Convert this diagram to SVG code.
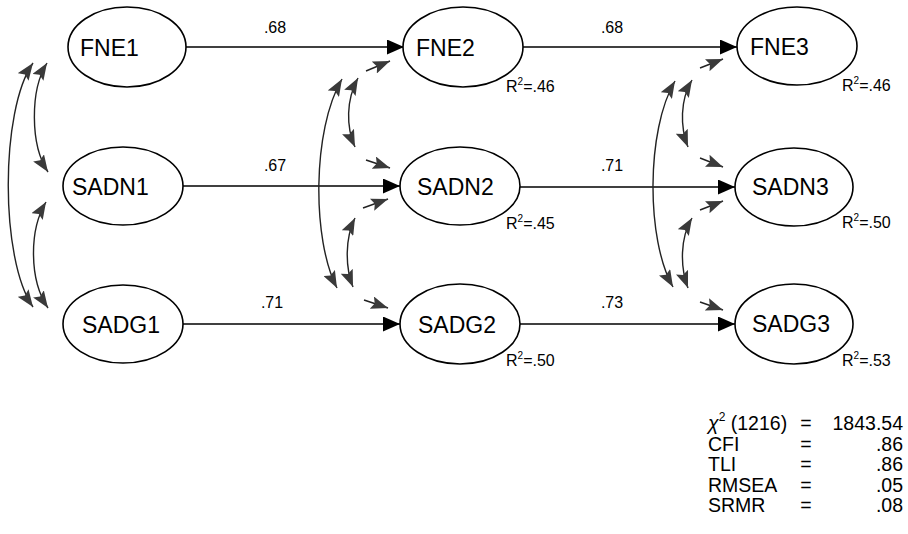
<svg xmlns="http://www.w3.org/2000/svg" width="908" height="534" viewBox="0 0 908 534">
<style>
.node ellipse{fill:#fff;stroke:#000;stroke-width:1.6}
.nt{font-family:"Liberation Sans",Arial,sans-serif;font-size:23px;fill:#000}
.lbl{font-family:"Liberation Sans",Arial,sans-serif;font-size:16px;fill:#000}
.r2{font-family:"Liberation Sans",Arial,sans-serif;font-size:16px;fill:#000}
.st{font-family:"Liberation Sans",Arial,sans-serif;font-size:19.5px;fill:#000}
.path{fill:none;stroke:#000;stroke-width:1.5}
.cov{fill:none;stroke:#222;stroke-width:1.4}
</style>
<defs>
<marker id="ah" viewBox="0 0 17 15" refX="17" refY="7.5" markerWidth="17" markerHeight="15" markerUnits="userSpaceOnUse" orient="auto">
<path d="M0,0 L17,7.5 L0,15 z" fill="#000"/>
</marker>
<marker id="gh" viewBox="0 0 17 13" refX="17" refY="6.5" markerWidth="17" markerHeight="13" markerUnits="userSpaceOnUse" orient="auto-start-reverse">
<path d="M0,0 L17,6.5 L0,13 L3,6.5 z" fill="#3a3a3a"/>
</marker>
</defs>

<g id="connectors">
<path class="path" d="M186 47 L404 47" marker-end="url(#ah)"/>
<path class="path" d="M183 186 L400 186" marker-end="url(#ah)"/>
<path class="path" d="M183 324 L400 324" marker-end="url(#ah)"/>
<path class="path" d="M523 47 L737 47" marker-end="url(#ah)"/>
<path class="path" d="M520 187 L735 187" marker-end="url(#ah)"/>
<path class="path" d="M520 324 L735 324" marker-end="url(#ah)"/>

<path class="cov" d="M33 63 C0 110, 0 260, 33 307" marker-start="url(#gh)" marker-end="url(#gh)"/>
<path class="cov" d="M47 63 C30 90, 30 145, 48 172" marker-start="url(#gh)" marker-end="url(#gh)"/>
<path class="cov" d="M46 202 C29 230, 29 280, 48 308" marker-start="url(#gh)" marker-end="url(#gh)"/>

<path class="cov" d="M342 79 C312 130, 312 240, 337 288" marker-start="url(#gh)" marker-end="url(#gh)"/>
<path class="cov" d="M358 78 C346 100, 346 127, 355 147" marker-start="url(#gh)" marker-end="url(#gh)"/>
<path class="cov" d="M355 218 C345 238, 345 267, 353 287" marker-start="url(#gh)" marker-end="url(#gh)"/>
<path class="cov" d="M366 71 L390 61" marker-end="url(#gh)"/>
<path class="cov" d="M366 160 L390 168" marker-end="url(#gh)"/>
<path class="cov" d="M363 208 L388 199" marker-end="url(#gh)"/>
<path class="cov" d="M364 300 L388 308" marker-end="url(#gh)"/>

<path class="cov" d="M675 81 C646 130, 646 240, 673 287" marker-start="url(#gh)" marker-end="url(#gh)"/>
<path class="cov" d="M692 80 C680 100, 680 127, 688 147" marker-start="url(#gh)" marker-end="url(#gh)"/>
<path class="cov" d="M692 218 C680 238, 680 267, 688 288" marker-start="url(#gh)" marker-end="url(#gh)"/>
<path class="cov" d="M700 68 L723 59" marker-end="url(#gh)"/>
<path class="cov" d="M700 158 L723 167" marker-end="url(#gh)"/>
<path class="cov" d="M700 210 L723 201" marker-end="url(#gh)"/>
<path class="cov" d="M700 302 L723 310" marker-end="url(#gh)"/>

<text class="lbl" x="275" y="33" text-anchor="middle">.68</text>
<text class="lbl" x="275" y="171" text-anchor="middle">.67</text>
<text class="lbl" x="272" y="308" text-anchor="middle">.71</text>
<text class="lbl" x="612" y="33" text-anchor="middle">.68</text>
<text class="lbl" x="612" y="171" text-anchor="middle">.71</text>
<text class="lbl" x="612" y="308" text-anchor="middle">.73</text>
</g>

<g id="FNE1" class="node"><ellipse cx="127" cy="47" rx="59" ry="40"/><text class="nt" x="80" y="56">FNE1</text></g>
<g id="SADN1" class="node"><ellipse cx="123" cy="186" rx="60" ry="39"/><text class="nt" x="72" y="195">SADN1</text></g>
<g id="SADG1" class="node"><ellipse cx="123" cy="324" rx="60" ry="39"/><text class="nt" x="82" y="333">SADG1</text></g>

<g id="FNE2" class="node"><ellipse cx="463" cy="47" rx="60" ry="40"/><text class="nt" x="416" y="56">FNE2</text>
<text class="r2" x="506" y="92">R<tspan font-size="10" dy="-7">2</tspan><tspan dy="7">=.46</tspan></text></g>
<g id="SADN2" class="node"><ellipse cx="460" cy="186" rx="60" ry="39"/><text class="nt" x="417" y="195">SADN2</text>
<text class="r2" x="506" y="229">R<tspan font-size="10" dy="-7">2</tspan><tspan dy="7">=.45</tspan></text></g>
<g id="SADG2" class="node"><ellipse cx="460" cy="324" rx="60" ry="40"/><text class="nt" x="418" y="333">SADG2</text>
<text class="r2" x="506" y="366">R<tspan font-size="10" dy="-7">2</tspan><tspan dy="7">=.50</tspan></text></g>

<g id="FNE3" class="node"><ellipse cx="797" cy="46" rx="60" ry="39"/><text class="nt" x="750" y="55">FNE3</text>
<text class="r2" x="842" y="91">R<tspan font-size="10" dy="-7">2</tspan><tspan dy="7">=.46</tspan></text></g>
<g id="SADN3" class="node"><ellipse cx="794" cy="187" rx="59" ry="39"/><text class="nt" x="752" y="195">SADN3</text>
<text class="r2" x="842" y="228">R<tspan font-size="10" dy="-7">2</tspan><tspan dy="7">=.50</tspan></text></g>
<g id="SADG3" class="node"><ellipse cx="794" cy="324" rx="59" ry="40"/><text class="nt" x="752" y="332">SADG3</text>
<text class="r2" x="842" y="366">R<tspan font-size="10" dy="-7">2</tspan><tspan dy="7">=.53</tspan></text></g>

<g id="fit">
<text class="st" x="708" y="430"><tspan font-style="italic">χ</tspan><tspan font-size="12" dy="-9">2</tspan><tspan dy="9"> (1216)</tspan></text>
<text class="st" x="806" y="430" text-anchor="middle">=</text>
<text class="st" x="903" y="430" text-anchor="end">1843.54</text>
<text class="st" x="708" y="451">CFI</text>
<text class="st" x="806" y="451" text-anchor="middle">=</text>
<text class="st" x="903" y="451" text-anchor="end">.86</text>
<text class="st" x="708" y="471">TLI</text>
<text class="st" x="806" y="471" text-anchor="middle">=</text>
<text class="st" x="903" y="471" text-anchor="end">.86</text>
<text class="st" x="708" y="492">RMSEA</text>
<text class="st" x="806" y="492" text-anchor="middle">=</text>
<text class="st" x="903" y="492" text-anchor="end">.05</text>
<text class="st" x="708" y="512">SRMR</text>
<text class="st" x="806" y="512" text-anchor="middle">=</text>
<text class="st" x="903" y="512" text-anchor="end">.08</text>
</g>
</svg>
